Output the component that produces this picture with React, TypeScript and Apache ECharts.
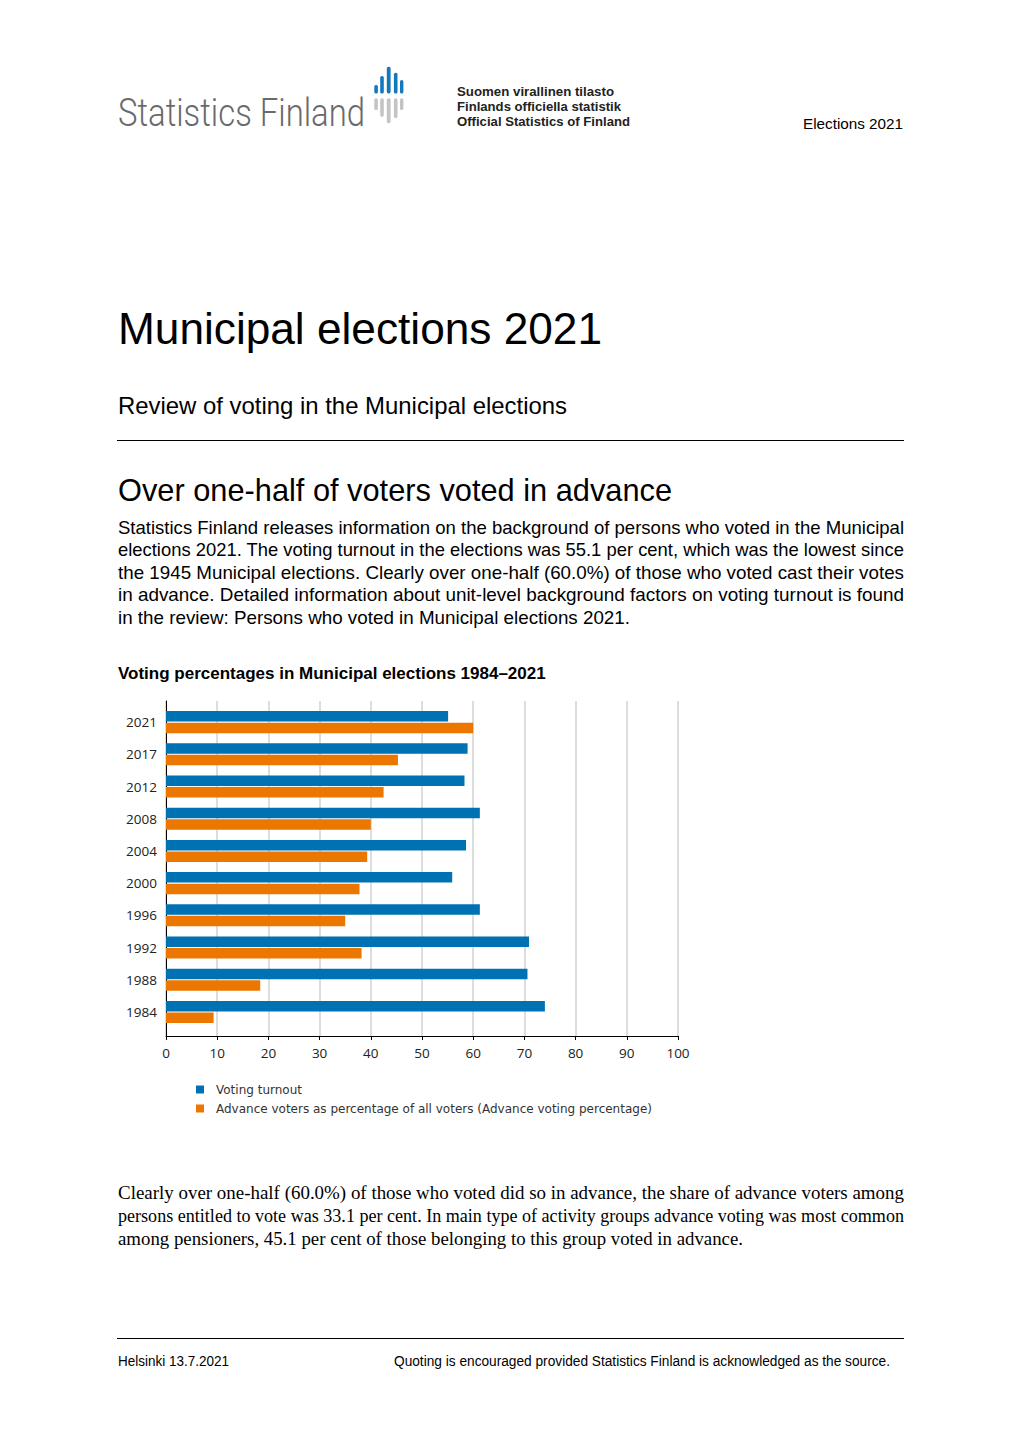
import React, { useEffect, useRef } from "react";
import * as echarts from "echarts";

const years = ["2021", "2017", "2012", "2008", "2004", "2000", "1996", "1992", "1988", "1984"];
const turnout = [55.1, 58.9, 58.3, 61.3, 58.6, 55.9, 61.3, 70.9, 70.6, 74.0];
const advance = [60.0, 45.3, 42.5, 40.0, 39.3, 37.8, 35.0, 38.2, 18.4, 9.3];
const seriesNames = ["Voting turnout", "Advance voters as percentage of all voters (Advance voting percentage)"];
const chartTitle = "Voting percentages in Municipal elections 1984\u20132021";

const BLUE = "#0071b3";
const ORANGE = "#ec7700";

const para1 = [
  "Statistics Finland releases information on the background of persons who voted in the Municipal",
  "elections 2021. The voting turnout in the elections was 55.1 per cent, which was the lowest since",
  "the 1945 Municipal elections. Clearly over one-half (60.0%) of those who voted cast their votes",
  "in advance. Detailed information about unit-level background factors on voting turnout is found",
  "in the review: Persons who voted in Municipal elections 2021.",
];
const para2 = [
  "Clearly over one-half (60.0%) of those who voted did so in advance, the share of advance voters among",
  "persons entitled to vote was 33.1 per cent. In main type of activity groups advance voting was most common",
  "among pensioners, 45.1 per cent of those belonging to this group voted in advance.",
];

function Chart() {
  const ref = useRef<HTMLDivElement>(null);
  useEffect(() => {
    if (!ref.current) return;
    const chart = echarts.init(ref.current, undefined, { renderer: "svg" });
    const axisFont = { fontFamily: "Open Sans", fontSize: 13.5, color: "#222" };
    chart.setOption({
      animation: false,
      title: {
        text: chartTitle,
        left: 18,
        top: 9.5,
        padding: 0,
        textStyle: { fontFamily: "Liberation Sans", fontSize: 17, fontWeight: "bold", color: "#000" },
      },
      legend: {
        orient: "vertical",
        left: 96,
        top: 427.5,
        padding: 0,
        itemWidth: 8,
        itemHeight: 8,
        itemGap: 5,
        icon: "rect",
        selectedMode: false,
        textStyle: { fontFamily: "DejaVu Sans", fontSize: 12, color: "#333", lineHeight: 14, padding: [0, 0, 0, 7] },
        data: seriesNames,
      },
      grid: [
        { left: 66, top: 51, width: 512, height: 322 },
        { left: 66, top: 46, width: 512, height: 335 },
      ],
      xAxis: [
        { type: "value", gridIndex: 0, min: 0, max: 100, show: false },
        {
          type: "value",
          gridIndex: 1,
          min: 0,
          max: 100,
          interval: 10,
          axisLine: { show: true, lineStyle: { color: "#000", width: 1 } },
          axisTick: { show: true, length: 4, lineStyle: { color: "#000" } },
          splitLine: { show: true, lineStyle: { color: "#d2d2d2", width: 1.5 } },
          axisLabel: { ...axisFont, margin: 10 },
        },
      ],
      yAxis: [
        {
          type: "category",
          gridIndex: 0,
          data: years,
          inverse: true,
          axisLine: { show: false },
          axisTick: { show: false },
          axisLabel: { ...axisFont, margin: 9 },
        },
        {
          type: "value",
          gridIndex: 1,
          min: 0,
          max: 1,
          axisLine: { show: true, lineStyle: { color: "#000", width: 1 } },
          axisTick: { show: false },
          axisLabel: { show: false },
          splitLine: { show: false },
        },
      ],
      series: [
        {
          name: seriesNames[0],
          type: "bar",
          xAxisIndex: 0,
          yAxisIndex: 0,
          data: turnout,
          barWidth: 10.5,
          barGap: "10%",
          itemStyle: { color: BLUE },
        },
        {
          name: seriesNames[1],
          type: "bar",
          xAxisIndex: 0,
          yAxisIndex: 0,
          data: advance,
          barWidth: 10.5,
          barGap: "10%",
          itemStyle: { color: ORANGE },
        },
      ],
    });
    return () => chart.dispose();
  }, []);
  return (
    <div
      ref={ref}
      style={{ position: "absolute", left: 100, top: 655, width: 620, height: 480 }}
    />
  );
}

const sans = "'Liberation Sans', Arial, sans-serif";
const serif = "'Liberation Serif', 'Times New Roman', serif";

export default function App() {
  const body1Base = [533.5, 556, 578.5, 601, 623.5];
  const body2Base = [1198.5, 1221.5, 1244.5];
  return (
    <div style={{ position: "absolute", left: 0, top: 0, width: 1020, height: 1442, background: "#fff", overflow: "hidden" }}>
      <svg width={1020} height={1442} style={{ position: "absolute", left: 0, top: 0 }}>
        {/* Logo */}
        <text x={118} y={126} fontFamily="Roboto, 'Open Sans', sans-serif" fontWeight={300} fontSize={38} fill="#6a6a6a" textLength={247} lengthAdjust="spacingAndGlyphs">Statistics Finland</text>
        <g>
          <rect x={374.3} y={85} width={3.6} height={8.5} rx={1.6} fill="#1478be" />
          <rect x={380.2} y={76} width={3.6} height={17.5} rx={1.6} fill="#1478be" />
          <rect x={386.8} y={66.7} width={3.8} height={26.8} rx={1.7} fill="#1478be" />
          <rect x={393.9} y={72.7} width={3.6} height={20.8} rx={1.6} fill="#1478be" />
          <rect x={400} y={80} width={3.4} height={13.5} rx={1.6} fill="#1478be" />
          <rect x={374.3} y={98.3} width={3.6} height={11.7} rx={1.6} fill="#c4c4c4" />
          <rect x={380.2} y={98.3} width={3.6} height={18.4} rx={1.6} fill="#c4c4c4" />
          <rect x={386.8} y={98.3} width={3.8} height={25} rx={1.7} fill="#c4c4c4" />
          <rect x={393.9} y={98.3} width={3.6} height={19.7} rx={1.6} fill="#c4c4c4" />
          <rect x={400} y={98.3} width={3.4} height={11.7} rx={1.6} fill="#c4c4c4" />
        </g>
        <text x={457} y={96} fontFamily={sans} fontWeight="bold" fontSize={13.5} fill="#222" textLength={157} lengthAdjust="spacingAndGlyphs">Suomen virallinen tilasto</text>
        <text x={457} y={111} fontFamily={sans} fontWeight="bold" fontSize={13.5} fill="#222" textLength={164} lengthAdjust="spacingAndGlyphs">Finlands officiella statistik</text>
        <text x={457} y={126} fontFamily={sans} fontWeight="bold" fontSize={13.5} fill="#222" textLength={173} lengthAdjust="spacingAndGlyphs">Official Statistics of Finland</text>
        <text x={803} y={128.5} fontFamily={sans} fontSize={15} fill="#000" textLength={100} lengthAdjust="spacingAndGlyphs">Elections 2021</text>

        {/* Titles */}
        <text x={118} y={344} fontFamily={sans} fontSize={44} fill="#000" textLength={484} lengthAdjust="spacingAndGlyphs">Municipal elections 2021</text>
        <text x={118} y={413.5} fontFamily={sans} fontSize={24} fill="#000" textLength={449} lengthAdjust="spacingAndGlyphs">Review of voting in the Municipal elections</text>
        <line x1={117} y1={440.5} x2={904} y2={440.5} stroke="#000" strokeWidth={1} />
        <text x={118} y={501} fontFamily={sans} fontSize={32} fill="#000" textLength={554} lengthAdjust="spacingAndGlyphs">Over one-half of voters voted in advance</text>

        {para1.map((t, i) => (
          <text key={"p1" + i} x={118} y={body1Base[i]} fontFamily={sans} fontSize={18.5} fill="#000"
            textLength={i < 4 ? 786 : 512} lengthAdjust="spacingAndGlyphs">{t}</text>
        ))}

        {para2.map((t, i) => (
          <text key={"p2" + i} x={118} y={body2Base[i]} fontFamily={serif} fontSize={18.5} fill="#000"
            textLength={i < 2 ? 786 : 625} lengthAdjust="spacingAndGlyphs">{t}</text>
        ))}

        {/* Footer */}
        <line x1={117} y1={1338.5} x2={904} y2={1338.5} stroke="#000" strokeWidth={1} />
        <text x={118} y={1366} fontFamily={sans} fontSize={14} fill="#000" textLength={111} lengthAdjust="spacingAndGlyphs">Helsinki 13.7.2021</text>
        <text x={394} y={1366} fontFamily={sans} fontSize={14} fill="#000" textLength={496} lengthAdjust="spacingAndGlyphs">Quoting is encouraged provided Statistics Finland is acknowledged as the source.</text>
      </svg>
      <Chart />
    </div>
  );
}
